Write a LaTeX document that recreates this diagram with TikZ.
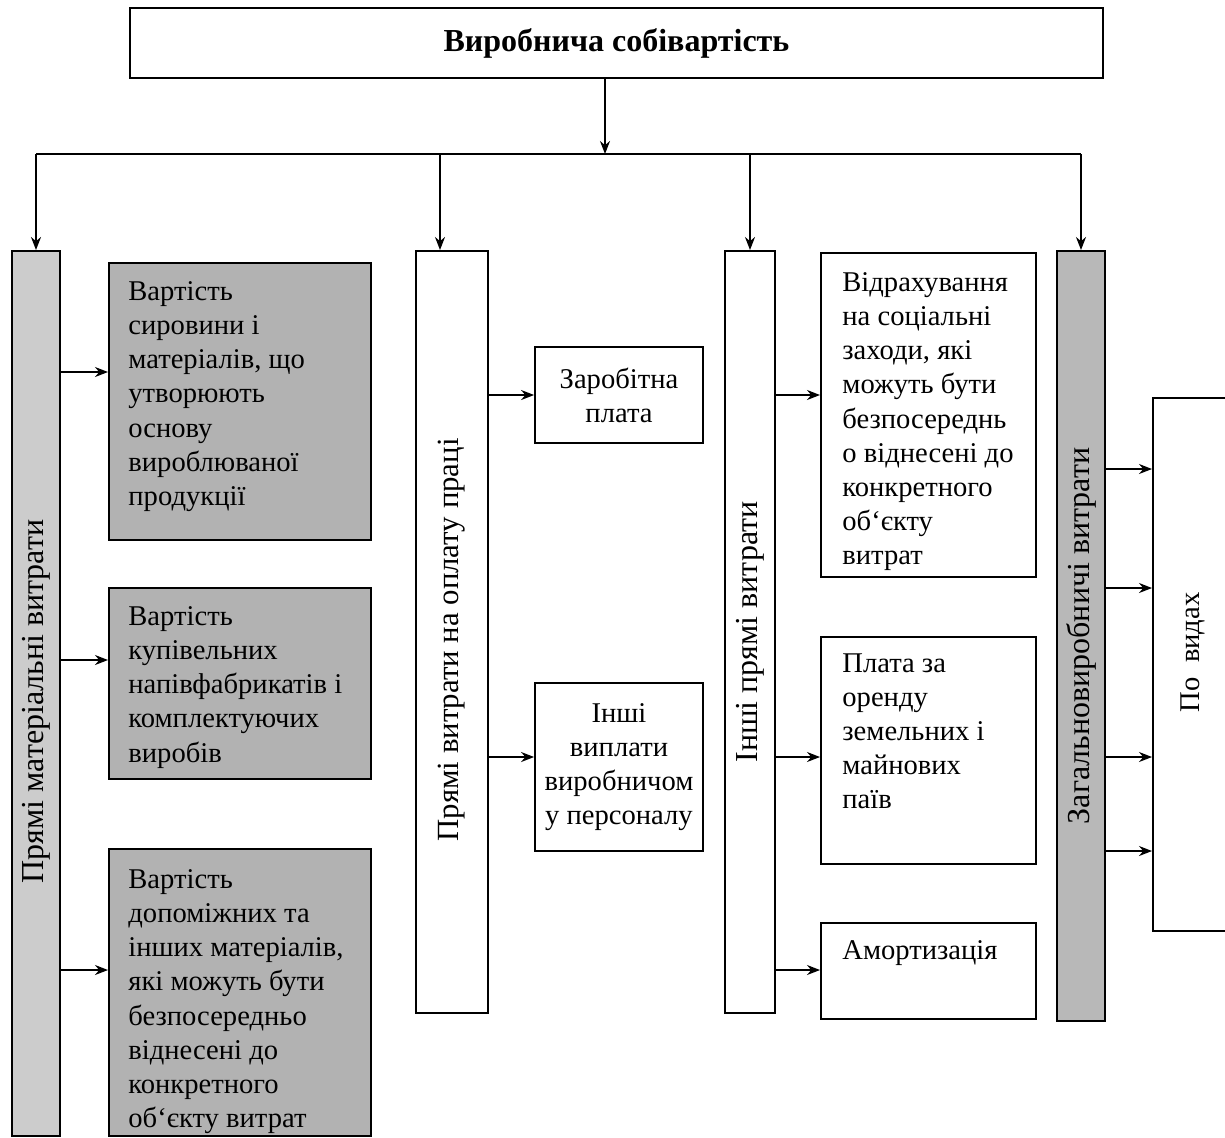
\documentclass[tikz,border=0pt]{standalone}
\usepackage{fontspec}
\setmainfont{Liberation Serif}
\usetikzlibrary{arrows.meta,positioning}
\newcommand{\bodyfont}{\fontsize{14.3}{17.1}\selectfont}

\begin{document}
\begin{tikzpicture}[x=0.5pt,y=-0.5pt,
  box/.style={draw,line width=0.9pt,anchor=north west,inner sep=0pt},
  shaded/.style={box,fill=black!30},
  bar/.style={draw,line width=0.9pt,anchor=north,inner sep=0pt},
  txt/.style={anchor=north west,align=left,inner sep=0pt,font=\bodyfont},
  vtxt/.style={rotate=90,inner sep=0pt},
  arr/.style={-{Stealth[length=6.5pt,width=5pt]},line width=0.85pt}]
  \useasboundingbox (0,0) rectangle (1225,1137);

  % Title
  \node[box,anchor=center,minimum width=486.5pt,minimum height=35pt,
    font=\bfseries\fontsize{16}{18}\selectfont] (cost) at (616.5,43) {Виробнича собівартість};
  \coordinate (bus) at (605,154);

  % Columns
  \node[bar,fill=black!20,minimum width=24pt,minimum height=442.5pt] (matcol) at (36,250) {};
  \node[bar,minimum width=36pt,minimum height=381pt] (labcol) at (452,250) {};
  \node[bar,minimum width=25pt,minimum height=381pt] (othcol) at (750,250) {};
  \node[bar,fill=black!28,minimum width=24pt,minimum height=385pt] (ovhcol) at (1081,250) {};
  \node[vtxt,font=\fontsize{16}{18}\selectfont] (matlab) at ([yshift=-4pt]matcol.center) {Прямі матеріальні витрати};
  \node[vtxt,font=\fontsize{15.4}{18}\selectfont] (lablab) at ([yshift=-4pt]labcol.center) {Прямі витрати на оплату праці};
  \node[vtxt,font=\fontsize{16}{18}\selectfont] (othlab) at (othcol.center) {Інші прямі витрати};
  \node[vtxt,font=\fontsize{16}{18}\selectfont] (ovhlab) at (ovhcol.center) {Загальновиробничі витрати};

  % Material costs
  \node[shaded,minimum width=131pt,minimum height=138.5pt] (mat1) at (108,262) {};
  \node[txt] (mat1t) at ([xshift=10pt,yshift=-9.5pt]mat1.north west)
    {Вартість\\сировини і\\матеріалів, що\\утворюють\\основу\\вироблюваної\\продукції};
  \node[shaded,minimum width=131pt,minimum height=95.5pt] (mat2) at (108,587) {};
  \node[txt] (mat2t) at ([xshift=10pt,yshift=-9.5pt]mat2.north west)
    {Вартість\\купівельних\\напівфабрикатів і\\комплектуючих\\виробів};
  \node[shaded,minimum width=131pt,minimum height=143.5pt] (mat3) at (108,848) {};
  \node[txt] (mat3t) at ([xshift=10pt,yshift=-10.5pt]mat3.north west)
    {Вартість\\допоміжних та\\інших матеріалів,\\які можуть бути\\безпосередньо\\віднесені до\\конкретного\\об`єкту витрат};

  % Labour costs
  \node[box,anchor=center,minimum width=84pt,minimum height=48pt,align=center,font=\bodyfont]
    (wage) at (619,395) {Заробітна\\плата};
  \node[box,anchor=center,minimum width=84pt,minimum height=84pt,align=center,font=\bodyfont]
    (pay) at (619,767) {Інші\\виплати\\виробничом\\у персоналу};

  % Other direct costs
  \node[box,minimum width=107.5pt,minimum height=162pt] (social) at (820,252) {};
  \node[txt] (socialt) at ([xshift=11pt,yshift=-10pt]social.north west)
    {Відрахування\\на соціальні\\заходи, які\\можуть бути\\безпосереднь\\о віднесені до\\конкретного\\об`єкту\\витрат};
  \node[box,minimum width=107.5pt,minimum height=113.5pt] (rent) at (820,636) {};
  \node[txt] (rentt) at ([xshift=11pt,yshift=-8.5pt]rent.north west)
    {Плата за\\оренду\\земельних і\\майнових\\паїв};
  \node[box,minimum width=107.5pt,minimum height=48pt] (amort) at (820,922) {};
  \node[txt] (amortt) at ([xshift=11pt,yshift=-9pt]amort.north west) {Амортизація};

  % Overheads
  \node[box,minimum width=40pt,minimum height=266.5pt] (kinds) at (1152,397) {};
  \node[vtxt,font=\bodyfont] (kindst) at ([yshift=6pt]kinds.center) {По\ \ видах};

  % Connectors
  \draw[arr] (cost.south -| bus) -- (bus);
  \draw[line width=0.85pt] (matcol.north |- bus) -- (ovhcol.north |- bus);
  \draw[arr] (matcol.north |- bus) -- (matcol.north);
  \draw[arr] ([xshift=-6pt]labcol.north |- bus) -- ([xshift=-6pt]labcol.north);
  \draw[arr] (othcol.north |- bus) -- (othcol.north);
  \draw[arr] (ovhcol.north |- bus) -- (ovhcol.north);
  \foreach \y/\t in {372/mat1,660/mat2,970/mat3}
    \draw[arr] (matcol.east |- 0,\y) -- (\t.west |- 0,\y);
  \foreach \y/\t in {395/wage,757/pay}
    \draw[arr] (labcol.east |- 0,\y) -- (\t.west |- 0,\y);
  \foreach \y/\t in {395/social,757/rent,970/amort}
    \draw[arr] (othcol.east |- 0,\y) -- (\t.west |- 0,\y);
  \foreach \y in {469,588,757,851}
    \draw[arr] (ovhcol.east |- 0,\y) -- (kinds.west |- 0,\y);
\end{tikzpicture}
\end{document}
